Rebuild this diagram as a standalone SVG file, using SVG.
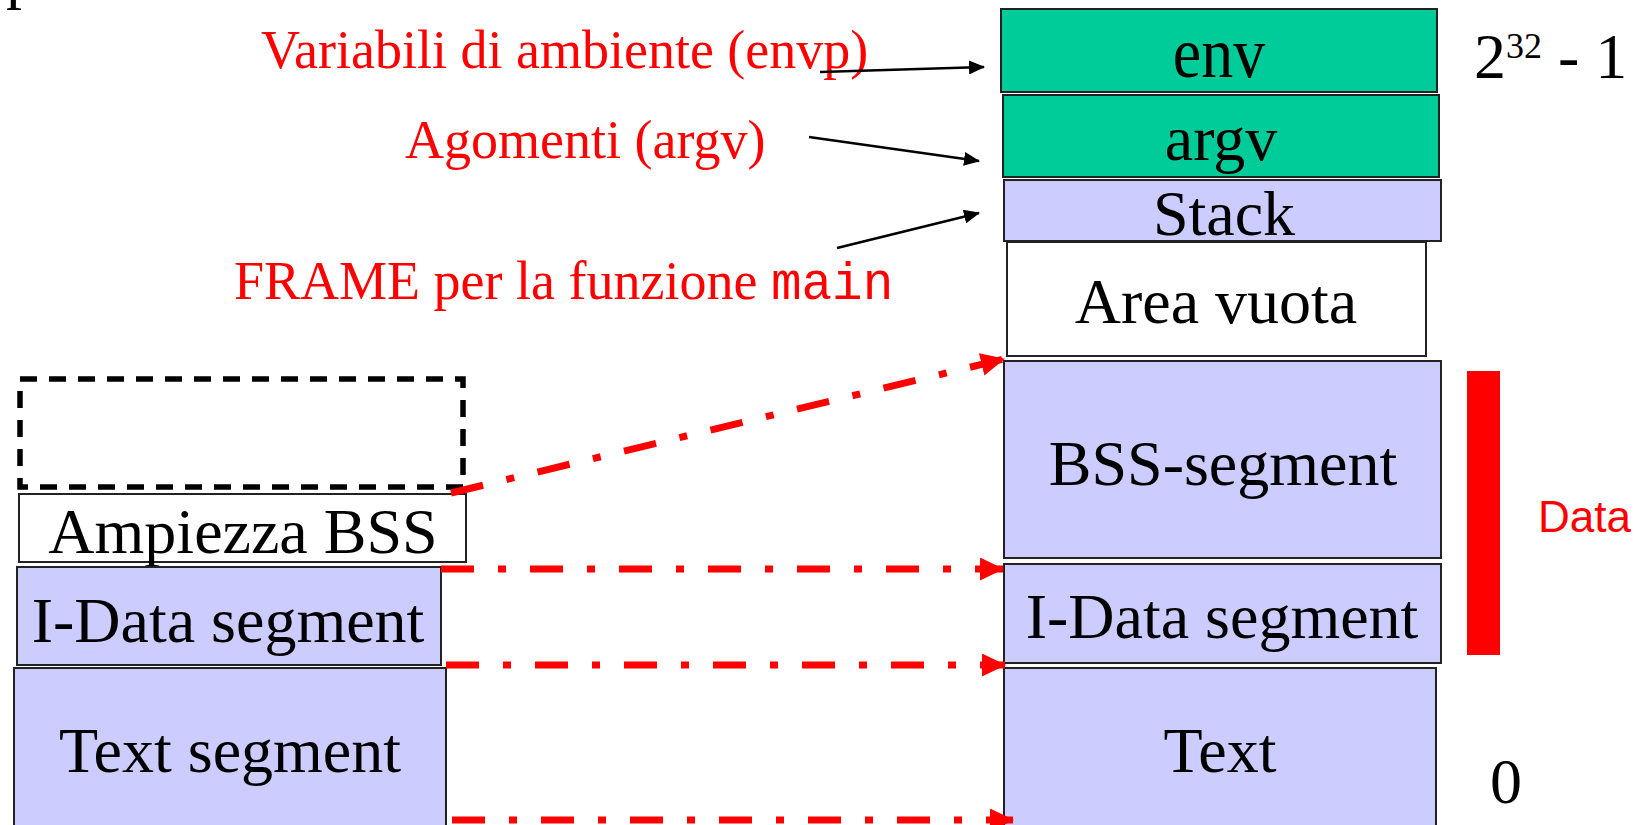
<svg xmlns="http://www.w3.org/2000/svg" width="1651" height="825" viewBox="0 0 1651 825">
<style>
.t{font-family:"Liberation Serif","Times New Roman",serif;font-size:64px;fill:#000}
.r{font-family:"Liberation Serif","Times New Roman",serif;font-size:54px;fill:#ff0000}
.m{font-family:"Liberation Mono","Courier New",monospace;font-size:51px}
.box{stroke:#222;stroke-width:2}
.teal{fill:#00cc99}
.lav{fill:#ccccff}
.wh{fill:#ffffff}
.blk{stroke:#000;stroke-width:2.5;fill:none}
.red{stroke:#ff0000;stroke-width:7;fill:none;stroke-dasharray:33 24 8 24}
</style>
<defs>
<marker id="ab" markerUnits="userSpaceOnUse" markerWidth="16" markerHeight="14" refX="15" refY="7" orient="auto">
<path d="M0,0 L16,7 L0,14 z" fill="#000"/>
</marker>
<marker id="ar" markerUnits="userSpaceOnUse" markerWidth="24" markerHeight="24" refX="23" refY="11.5" orient="auto">
<path d="M0,0 L24,11.5 L0,23 z" fill="#ff0000"/>
</marker>
</defs>
<rect width="1651" height="825" fill="#fff"/>
<text class="t" x="6" y="-4">p</text>

<g id="label-envp"><text class="r" x="261" y="68">Variabili di ambiente (envp)</text></g>
<g id="label-argv"><text class="r" x="405" y="158">Agomenti (argv)</text></g>
<g id="label-frame"><text class="r" x="234" y="299">FRAME per la funzione <tspan class="m">main</tspan></text></g>

<g id="env"><rect class="box teal" x="1001" y="9" width="436" height="83"/><text class="t" x="1219" y="0" text-anchor="middle" transform="translate(0,77) scale(1,1.12)">env</text></g>
<g id="argv"><rect class="box teal" x="1003" y="95" width="436" height="82"/><text class="t" x="1221" y="160" text-anchor="middle">argv</text></g>
<g id="stack"><rect class="box lav" x="1004" y="180" width="437" height="61"/><text class="t" x="1224" y="235" text-anchor="middle">Stack</text></g>
<g id="area-vuota"><rect class="box wh" x="1007" y="242" width="419" height="114"/><text class="t" x="1216" y="323" text-anchor="middle">Area vuota</text></g>
<g id="bss"><rect class="box lav" x="1004" y="361" width="437" height="197"/><text class="t" x="1223" y="485" text-anchor="middle">BSS-segment</text></g>
<g id="idata-r"><rect class="box lav" x="1004" y="564" width="437" height="99"/><text class="t" x="1222" y="638" text-anchor="middle">I-Data segment</text></g>
<g id="text-r"><rect class="box lav" x="1004" y="668" width="432" height="160"/><text class="t" x="1220" y="772" text-anchor="middle">Text</text></g>

<g id="max-addr"><text class="t" x="1474" y="78">2<tspan font-size="36" dy="-20">32</tspan><tspan dy="20"> - 1</tspan></text></g>
<g id="zero"><text class="t" x="1490" y="803">0</text></g>
<g id="data-bar"><rect x="1467" y="371" width="33" height="284" fill="#ff0000"/><text x="1538" y="532" font-family="Liberation Sans, Arial, sans-serif" font-size="44" fill="#ff0000">Data</text></g>

<g id="bss-empty"><rect x="20" y="379" width="443" height="108" fill="none" stroke="#000" stroke-width="5.5" stroke-dasharray="17 12"/></g>
<g id="ampiezza"><rect class="box wh" x="19" y="494" width="447" height="68"/><text class="t" x="243" y="553" text-anchor="middle">Ampiezza BSS</text></g>
<g id="idata-l"><rect class="box lav" x="17" y="567" width="424" height="98"/><text class="t" x="228" y="642" text-anchor="middle">I-Data segment</text></g>
<g id="text-l"><rect class="box lav" x="14" y="668" width="432" height="160"/><text class="t" x="230" y="772" text-anchor="middle">Text segment</text></g>

<g id="connectors">
<line class="blk" x1="820" y1="72" x2="984" y2="67" marker-end="url(#ab)"/>
<line class="blk" x1="809" y1="137" x2="979" y2="161" marker-end="url(#ab)"/>
<line class="blk" x1="837" y1="248" x2="979" y2="213" marker-end="url(#ab)"/>
<line class="red" x1="451" y1="493" x2="1004" y2="359" marker-end="url(#ar)"/>
<line class="red" x1="441" y1="569" x2="1003" y2="569" marker-end="url(#ar)"/>
<line class="red" x1="446" y1="665" x2="1005" y2="665" marker-end="url(#ar)"/>
<line class="red" x1="452" y1="820" x2="1013" y2="820" marker-end="url(#ar)"/>
</g>
</svg>
